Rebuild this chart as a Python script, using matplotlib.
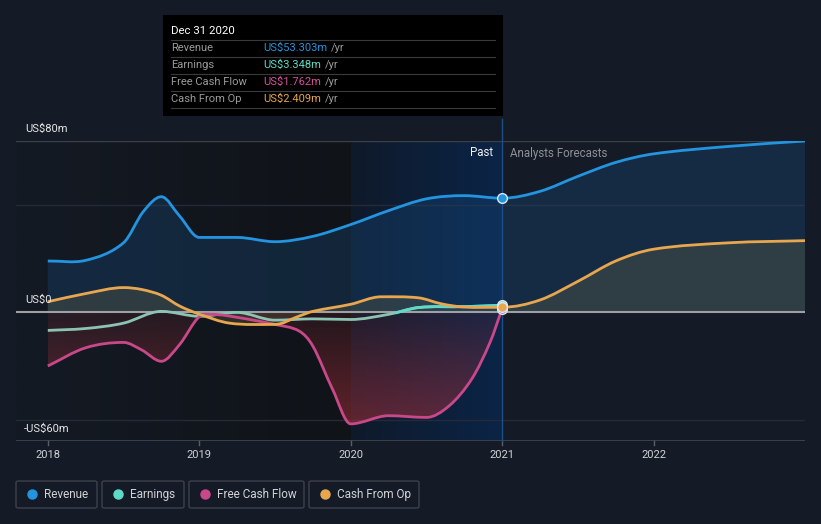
import numpy as np
import matplotlib
matplotlib.use("Agg")
import matplotlib.pyplot as plt
from matplotlib.path import Path
from matplotlib.patches import PathPatch, Rectangle, FancyBboxPatch
from matplotlib.colors import to_rgb

plt.rcParams['font.family'] = ['Roboto', 'DejaVu Sans']

# ---- data (US$ m) ----
rev_x = [2018.0, 2018.25, 2018.5, 2018.63, 2018.75, 2018.87, 2019.0, 2019.25,
         2019.5, 2019.75, 2020.0, 2020.25, 2020.5, 2020.75, 2021.0,
         2021.25, 2021.5, 2021.75, 2022.0, 2022.5, 2023.0]
rev_y = [24.0, 24.3, 32.5, 47.0, 54.0, 45.0, 35.0, 35.0,
         33.0, 35.5, 41.0, 47.5, 53.0, 54.5, 53.303,
         56.5, 63.5, 70.0, 74.0, 77.5, 80.0]

earn_x = [2018.0, 2018.25, 2018.5, 2018.75, 2019.0, 2019.25, 2019.5, 2019.75,
          2020.0, 2020.25, 2020.45, 2020.75, 2021.0]
earn_y = [-8.4, -7.5, -5.0, 0.5, -1.8, 0.0, -3.6, -3.0,
          -3.3, -0.9, 2.3, 2.7, 3.348]

fcf_x = [2018.0, 2018.25, 2018.5, 2018.62, 2018.75, 2018.87, 2019.0, 2019.1,
         2019.25, 2019.5, 2019.66, 2019.75, 2019.88, 2020.0, 2020.25, 2020.5,
         2020.65, 2020.8, 2020.92, 2021.0]
fcf_y = [-25.0, -16.5, -14.0, -17.5, -22.8, -15.0, -2.0, -1.0,
         -2.3, -5.6, -8.7, -15.7, -35.8, -52.0, -48.2, -49.0,
         -43.6, -31.0, -14.0, 1.762]

cfo_x = [2018.0, 2018.25, 2018.5, 2018.62, 2018.75, 2018.87, 2019.0, 2019.2,
         2019.5, 2019.66, 2019.75, 2020.0, 2020.2, 2020.45, 2020.6, 2020.75,
         2021.0, 2021.25, 2021.5, 2021.75, 2022.0, 2022.5, 2023.0]
cfo_y = [5.0, 8.8, 11.6, 10.7, 8.0, 3.0, -0.8, -5.0,
         -5.6, -1.7, 0.5, 3.8, 7.3, 6.8, 4.0, 2.5,
         2.409, 5.8, 14.5, 24.0, 29.5, 32.5, 33.5]

year_ticks = [2018, 2019, 2020, 2021, 2022]
legend_names = ["Revenue", "Earnings", "Free Cash Flow", "Cash From Op"]
tip_values = ["US$53.303m", "US$3.348m", "US$1.762m", "US$2.409m"]

C_REV = "#2394df"
C_EARN = "#5ddbc8"
C_EARN_MUTED = "#8cc4b3"
C_FCF = "#c9488a"
C_CFO = "#e8a64f"
BG = "#151b26"

W, H = 821, 524


def px(x, y):
    return x / W, 1 - y / H


def smooth_path(xs, ys, close=False):
    # cubic hermite through the read points, flat tangent at local extrema
    x = np.asarray(xs, float)
    y = np.asarray(ys, float)
    n = len(x)
    d = np.diff(y) / np.diff(x)
    m = np.zeros(n)
    m[0], m[-1] = d[0], d[-1]
    for i in range(1, n - 1):
        if d[i - 1] * d[i] <= 0:
            m[i] = 0
        else:
            m[i] = (y[i + 1] - y[i - 1]) / (x[i + 1] - x[i - 1])
    verts = [(x[0], y[0])]
    codes = [Path.MOVETO]
    for i in range(n - 1):
        h = x[i + 1] - x[i]
        verts += [(x[i] + h / 3, y[i] + m[i] * h / 3),
                  (x[i + 1] - h / 3, y[i + 1] - m[i + 1] * h / 3),
                  (x[i + 1], y[i + 1])]
        codes += [Path.CURVE4] * 3
    if close:
        verts += [(x[-1], 0), (x[0], 0), (x[0], 0)]
        codes += [Path.LINETO, Path.LINETO, Path.CLOSEPOLY]
    return Path(verts, codes)


fig = plt.figure(figsize=(W / 100, H / 100), dpi=100, facecolor=BG)
ax = fig.add_axes([16 / W, 1 - 441 / H, (805 - 16) / W, 300 / H])
ax.set_facecolor(BG)
for s in ax.spines.values():
    s.set_visible(False)
ax.set_xticks([])
ax.set_yticks([])


def hgrad(x0, x1, c0, c1, z):
    a = np.array(to_rgb(c0))
    b = np.array(to_rgb(c1))
    t = np.linspace(0, 1, 256)[None, :, None]
    img = a + (b - a) * t
    ax.imshow(img, extent=[x0, x1, -60, 80], aspect='auto', zorder=z,
              interpolation='bilinear')


# past shading and the last-year highlight
hgrad(2017.79, 2020.0, "#141a24", "#101318", 0)
hgrad(2020.0, 2021.0, "#0f1a2a", "#0b2447", 0)

# grid
ax.axhline(80, color="#3a3f48", lw=1, zorder=0.5)
for g in (50, -50):
    ax.axhline(g, color="#252b36", lw=1, zorder=0.5)
ax.axhline(-60, color="#3a3f48", lw=1.5, zorder=0.5)

# fills
rev_fill = PathPatch(smooth_path(rev_x, rev_y, True), facecolor="#185087",
                     alpha=0.3, edgecolor='none', zorder=1)
ax.add_patch(rev_fill)
cfo_fill = PathPatch(smooth_path(cfo_x, cfo_y, True), facecolor="#6e6a48",
                     alpha=0.3, edgecolor='none', zorder=1.1)
ax.add_patch(cfo_fill)

fcf_clip = PathPatch(smooth_path(fcf_x, fcf_y, True), facecolor='none',
                     edgecolor='none', zorder=1.2)
ax.add_patch(fcf_clip)
grad = np.zeros((256, 1, 4))
grad[..., :3] = to_rgb("#b4323c")
grad[:, 0, 3] = np.linspace(0.55, 0.12, 256)
im = ax.imshow(grad, extent=[2018, 2021, 0, -60], origin='upper',
               aspect='auto', zorder=1.2)
im.set_clip_path(fcf_clip)

ax.set_xlim(2017.79, 2023.0)
ax.set_ylim(-60, 80)

ax.axhline(0, color="#9ea0a4", lw=1.5, zorder=2)

# lines
lw = 2.0
ax.add_patch(PathPatch(smooth_path(earn_x, earn_y), facecolor='none',
                       edgecolor=C_EARN_MUTED, lw=lw, zorder=3))
bright = PathPatch(smooth_path(earn_x, earn_y), facecolor='none',
                   edgecolor=C_EARN, lw=lw, zorder=3.05)
ax.add_patch(bright)
clip_rect = Rectangle((2020.3, -60), 1.0, 140, transform=ax.transData)
bright.set_clip_path(clip_rect)
ax.add_patch(PathPatch(smooth_path(fcf_x, fcf_y), facecolor='none',
                       edgecolor=C_FCF, lw=lw, zorder=3.1))
ax.add_patch(PathPatch(smooth_path(cfo_x, cfo_y), facecolor='none',
                       edgecolor=C_CFO, lw=lw, zorder=3.2))
ax.add_patch(PathPatch(smooth_path(rev_x, rev_y), facecolor='none',
                       edgecolor=C_REV, lw=lw, zorder=3.3))

# hover line at Dec 2020
ax.plot([2021, 2021], [-60, 90.5], color="#1c4f86", lw=1, zorder=2.5,
        clip_on=False)

# dots at the latest value
last = [earn_y[earn_x.index(2021.0)], fcf_y[fcf_x.index(2021.0)],
        cfo_y[cfo_x.index(2021.0)], rev_y[rev_x.index(2021.0)]]
for i, (v, col) in enumerate(zip(last, [C_EARN, C_FCF, C_CFO, C_REV])):
    ax.plot(2021, v, 'o', ms=7, mfc=col, mec="#dbe6f0", mew=1, zorder=5 + i)

# x ticks
for yr in year_ticks:
    ax.plot([yr, yr], [-60, -61.8], color="#5a5f68", lw=1, clip_on=False)
    ax.text(yr, -66.5, str(yr), color="#cfd2d6", fontsize=8, ha='center',
            va='center')

# y labels
fig.text(*px(25, 129), "US$80m", color="#e6e6e6", fontsize=8, va='center')
fig.text(*px(25, 300), "US$0", color="#e6e6e6", fontsize=8, va='center')
fig.text(*px(24, 429), "-US$60m", color="#e6e6e6", fontsize=8, va='center')

fig.text(*px(493, 153), "Past", color="#f0f0f0", fontsize=8.3, ha='right',
         va='center')
fig.text(*px(510, 153), "Analysts Forecasts", color="#8e9096", fontsize=8.3,
         va='center')

# tooltip
x0, y0 = px(163, 116)
x1, y1 = px(503, 15)
fig.patches.append(Rectangle((x0, y0), x1 - x0, y1 - y0, transform=fig.transFigure,
                             facecolor="#000000", edgecolor='none', zorder=10))
fig.text(*px(171, 31), "Dec 31 2020", color="#ffffff", fontsize=8.2,
         va='center', zorder=11)
for yy in (40, 57, 74, 91, 108):
    a, b = px(171, yy)
    c, _ = px(495, yy)
    fig.lines.append(plt.Line2D([a, c], [b, b], transform=fig.transFigure,
                                color="#3a3a3a", lw=0.8, zorder=11))
tip_colors = [C_REV, C_EARN, "#d8509a", C_CFO]
fig.canvas.draw()
renderer = fig.canvas.get_renderer()
for k, (name, val, col) in enumerate(zip(legend_names, tip_values, tip_colors)):
    yy = 48 + 17 * k
    fig.text(*px(171, yy), name, color="#9a9a9a", fontsize=8, va='center',
             zorder=11)
    t = fig.text(*px(263, yy), val, color=col, fontsize=8, va='center',
                 zorder=11)
    ext = t.get_window_extent(renderer)
    fig.text(*px(263 + ext.width + 4, yy), "/yr", color="#9a9a9a",
             fontsize=8, va='center', zorder=11)

# legend boxes
boxes = [(16, 97), (102, 184), (189, 304), (309, 419)]
leg_colors = [C_REV, C_EARN, C_FCF, C_CFO]
for (bx0, bx1), name, col in zip(boxes, legend_names, leg_colors):
    a, b = px(bx0, 508)
    c, d = px(bx1, 481)
    fig.patches.append(FancyBboxPatch((a, b), c - a, d - b,
                                      boxstyle="round,pad=0,rounding_size=0.003",
                                      transform=fig.transFigure,
                                      facecolor='none', edgecolor="#3c414b",
                                      lw=1))
    fig.lines.append(plt.Line2D([px(bx0 + 16, 0)[0]], [px(0, 494)[1]],
                                transform=fig.transFigure, marker='o', ms=6.5,
                                color=col, lw=0))
    fig.text(*px(bx0 + 28, 494.5), name, color="#d0d2d6", fontsize=8.5,
             va='center')

fig.savefig("out.png", dpi=100, facecolor=BG)
